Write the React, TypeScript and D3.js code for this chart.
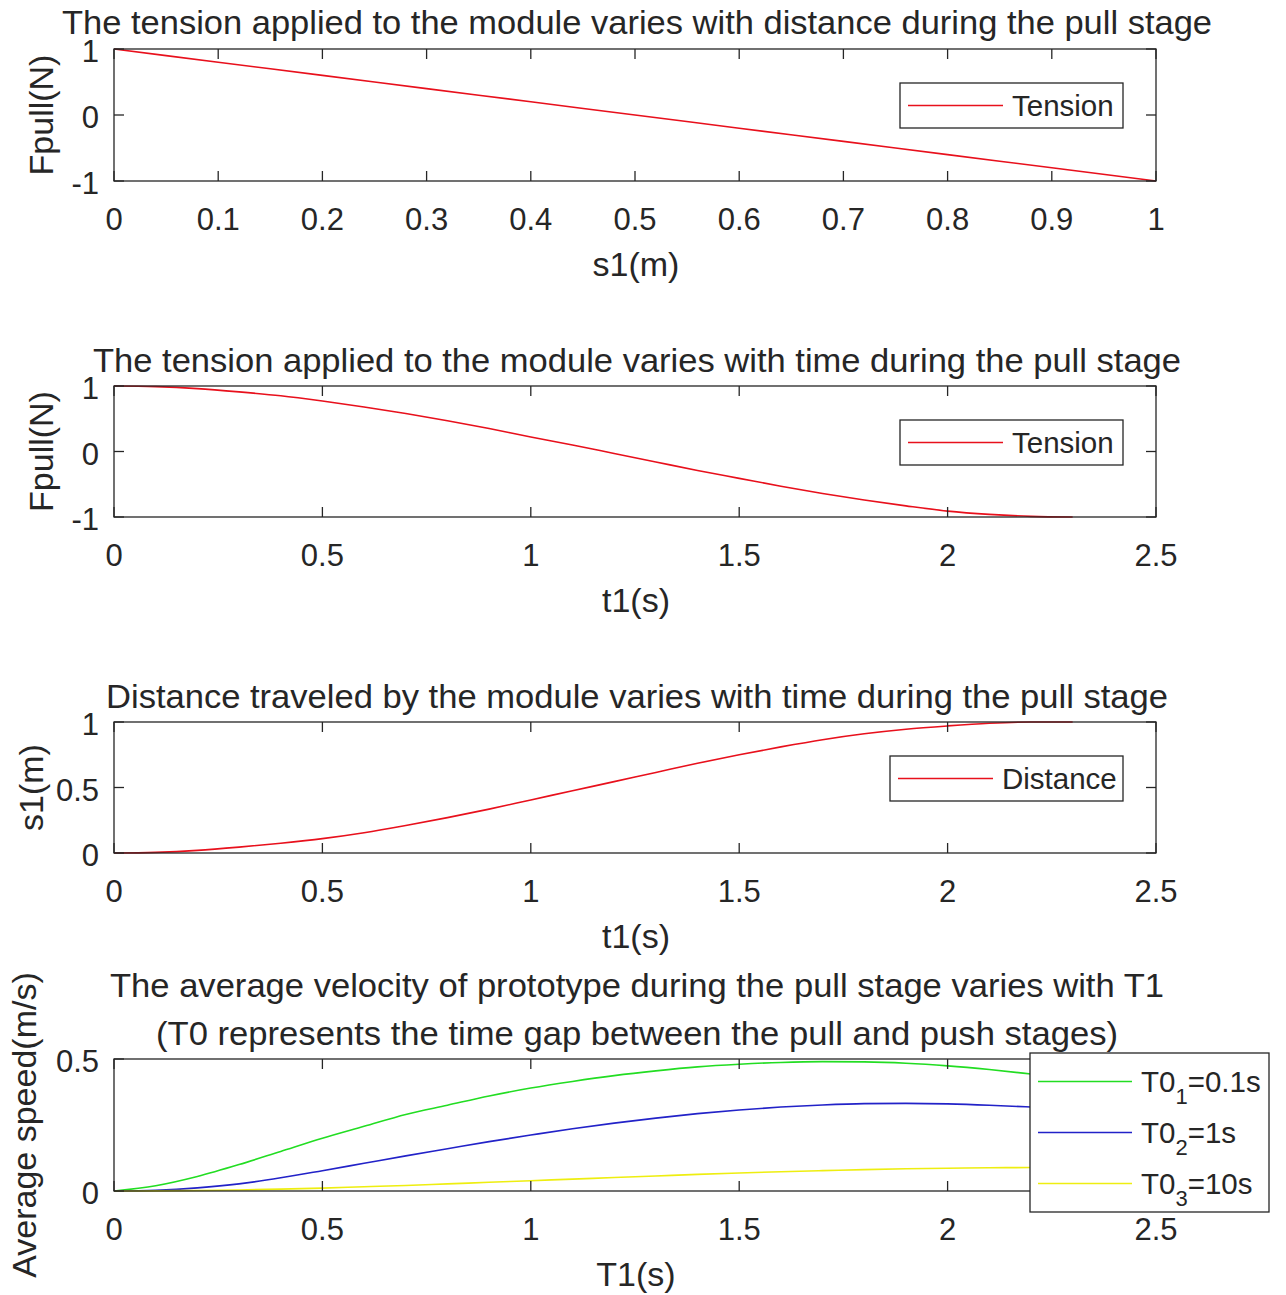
import React from 'react';
import * as d3 from 'd3';

// panel 1: tension vs distance
const s1 = [0, 0.1, 0.2, 0.3, 0.4, 0.5, 0.6, 0.7, 0.8, 0.9, 1];
const tensionByDist = [1, 0.8, 0.6, 0.4, 0.2, 0, -0.2, -0.4, -0.6, -0.8, -1];

// panels 2 & 3: vs time
const t1 = [0, 0.1, 0.2, 0.3, 0.4, 0.5, 0.6, 0.7, 0.8, 0.9, 1, 1.1, 1.2, 1.3, 1.4, 1.5, 1.6, 1.7, 1.8, 1.9, 2, 2.1, 2.2, 2.3];
const tensionByTime = [1, 0.99, 0.96, 0.91, 0.85, 0.77, 0.68, 0.58, 0.47, 0.35, 0.22, 0.1, -0.03, -0.16, -0.29, -0.41, -0.53, -0.64, -0.74, -0.83, -0.91, -0.96, -0.99, -1];
const distance = [0, 0.005, 0.02, 0.045, 0.075, 0.11, 0.155, 0.21, 0.27, 0.335, 0.405, 0.475, 0.545, 0.615, 0.685, 0.75, 0.81, 0.865, 0.91, 0.945, 0.97, 0.99, 1, 1];

// panel 4: average velocity vs T1
const T1 = [0, 0.1, 0.2, 0.3, 0.4, 0.5, 0.6, 0.7, 0.8, 0.9, 1, 1.1, 1.2, 1.3, 1.4, 1.5, 1.6, 1.7, 1.8, 1.9, 2, 2.1, 2.2, 2.3, 2.4, 2.5];
const vT0a = [0, 0.02, 0.055, 0.1, 0.15, 0.2, 0.245, 0.29, 0.325, 0.36, 0.39, 0.415, 0.437, 0.455, 0.47, 0.48, 0.487, 0.49, 0.489, 0.484, 0.474, 0.46, 0.443, 0.425, 0.405, 0.385];
const vT0b = [0, 0.003, 0.012, 0.027, 0.05, 0.077, 0.105, 0.133, 0.16, 0.187, 0.212, 0.236, 0.257, 0.276, 0.293, 0.307, 0.318, 0.326, 0.331, 0.332, 0.33, 0.325, 0.318, 0.31, 0.3, 0.29];
const vT0c = [0, 0.0005, 0.002, 0.004, 0.007, 0.011, 0.016, 0.021, 0.027, 0.033, 0.039, 0.045, 0.051, 0.057, 0.063, 0.068, 0.073, 0.077, 0.081, 0.084, 0.086, 0.088, 0.089, 0.09, 0.09, 0.09];

const sLabels = ['0', '0.1', '0.2', '0.3', '0.4', '0.5', '0.6', '0.7', '0.8', '0.9', '1'];
const tTicks = [0, 0.5, 1, 1.5, 2, 2.5];

const INK = '#262626';
const FONT = 'Arial, "Liberation Sans", Helvetica, sans-serif';
const FS_TICK = 31;
const FS_LABEL = 34;
const FS_LEGEND = 29.5;
const X0 = 114;
const X1 = 1156;

type Series = { x: number[]; y: number[]; color: string; name: string; sub?: string; rest?: string };

type PanelProps = {
  top: number;
  bottom: number;
  xDomain: [number, number];
  xTicks: number[];
  xFmt: (v: number) => string;
  yDomain: [number, number];
  yTicks: number[];
  title: string[];
  titleY: number[];
  titleW: number[];
  xlabel: string;
  ylabel: string;
  ylabelX: number;
  series: Series[];
  legend: { x: number; y: number; w: number; h: number; rowH: number; lineLen: number };
};

function Panel(p: PanelProps) {
  const x = d3.scaleLinear().domain(p.xDomain).range([X0, X1]);
  const y = d3.scaleLinear().domain(p.yDomain).range([p.bottom, p.top]);
  const line = d3.line<[number, number]>().x(d => x(d[0])).y(d => y(d[1])).curve(d3.curveMonotoneX);
  const tl = 10;
  const lg = p.legend;
  return (
    <g fontFamily={FONT} fill={INK}>
      {p.title.map((s, i) => (
        <text key={i} x={(X0 + X1) / 2 + 2} y={p.titleY[i]} textAnchor="middle" fontSize={FS_LABEL}
          textLength={p.titleW[i]} lengthAdjust="spacingAndGlyphs">{s}</text>
      ))}
      <clipPath id={`clip${p.top}`}>
        <rect x={X0} y={p.top - 2} width={X1 - X0 + 2} height={p.bottom - p.top + 4} />
      </clipPath>
      <g clipPath={`url(#clip${p.top})`}>
        {p.series.map((s, i) => (
          <path key={i} d={line(s.x.map((v, j) => [v, s.y[j]]) as [number, number][]) || ''}
            fill="none" stroke={s.color} strokeWidth={1.6} />
        ))}
      </g>
      <rect x={X0} y={p.top} width={X1 - X0} height={p.bottom - p.top} fill="none" stroke={INK} strokeWidth={1.3} />
      {p.xTicks.map((v, i) => (
        <g key={i}>
          <line x1={x(v)} x2={x(v)} y1={p.bottom} y2={p.bottom - tl} stroke={INK} strokeWidth={1.3} />
          <line x1={x(v)} x2={x(v)} y1={p.top} y2={p.top + tl} stroke={INK} strokeWidth={1.3} />
          <text x={x(v)} y={p.bottom + 49} textAnchor="middle" fontSize={FS_TICK}>{p.xFmt(v)}</text>
        </g>
      ))}
      {p.yTicks.map((v, i) => (
        <g key={i}>
          <line x1={X0} x2={X0 + tl} y1={y(v)} y2={y(v)} stroke={INK} strokeWidth={1.3} />
          <line x1={X1} x2={X1 - tl} y1={y(v)} y2={y(v)} stroke={INK} strokeWidth={1.3} />
          <text x={99} y={y(v) + 13} textAnchor="end" fontSize={FS_TICK}>{String(v)}</text>
        </g>
      ))}
      <text x={(X0 + X1) / 2 + 1} y={p.bottom + 95} textAnchor="middle" fontSize={FS_LABEL}>{p.xlabel}</text>
      <text transform={`translate(${p.ylabelX},${(p.top + p.bottom) / 2}) rotate(-90)`} textAnchor="middle" fontSize={FS_LABEL}>{p.ylabel}</text>
      <rect x={lg.x} y={lg.y} width={lg.w} height={lg.h} fill="#fff" stroke={INK} strokeWidth={1.3} />
      {p.series.map((s, i) => {
        const cy = lg.y + lg.rowH / 2 + (lg.h - lg.rowH * p.series.length) / 2 + i * lg.rowH;
        return (
          <g key={i}>
            <line x1={lg.x + 8} x2={lg.x + 8 + lg.lineLen} y1={cy} y2={cy} stroke={s.color} strokeWidth={1.6} />
            <text x={lg.x + 17 + lg.lineLen} y={cy + 10} fontSize={FS_LEGEND}>
              {s.name}
              {s.sub && <tspan dy={12} fontSize={22}>{s.sub}</tspan>}
              {s.rest && <tspan dy={-12}>{s.rest}</tspan>}
            </text>
          </g>
        );
      })}
    </g>
  );
}

export default function App() {
  const fmtT = (v: number) => String(v);
  return (
    <svg width={1286} height={1295} style={{ display: 'block', position: 'absolute', left: 0, top: 0 }}>
      <rect width={1286} height={1295} fill="#fff" />
      <Panel top={49} bottom={181} xDomain={[0, 1]} xTicks={s1} xFmt={v => sLabels[Math.round(v * 10)]}
        yDomain={[-1, 1]} yTicks={[-1, 0, 1]}
        title={['The tension applied to the module varies with distance during the pull stage']} titleY={[34]} titleW={[1150]}
        xlabel="s1(m)" ylabel="Fpull(N)" ylabelX={53}
        series={[{ x: s1, y: tensionByDist, color: '#e8101c', name: 'Tension' }]}
        legend={{ x: 900, y: 83, w: 223, h: 45, rowH: 45, lineLen: 95 }} />
      <Panel top={386} bottom={517} xDomain={[0, 2.5]} xTicks={tTicks} xFmt={fmtT}
        yDomain={[-1, 1]} yTicks={[-1, 0, 1]}
        title={['The tension applied to the module varies with time during the pull stage']} titleY={[372]} titleW={[1088]}
        xlabel="t1(s)" ylabel="Fpull(N)" ylabelX={53}
        series={[{ x: t1, y: tensionByTime, color: '#e8101c', name: 'Tension' }]}
        legend={{ x: 900, y: 420, w: 223, h: 45, rowH: 45, lineLen: 95 }} />
      <Panel top={722} bottom={853} xDomain={[0, 2.5]} xTicks={tTicks} xFmt={fmtT}
        yDomain={[0, 1]} yTicks={[0, 0.5, 1]}
        title={['Distance traveled by the module varies with time during the pull stage']} titleY={[708]} titleW={[1062]}
        xlabel="t1(s)" ylabel="s1(m)" ylabelX={43}
        series={[{ x: t1, y: distance, color: '#e8101c', name: 'Distance' }]}
        legend={{ x: 890, y: 756, w: 233, h: 45, rowH: 45, lineLen: 95 }} />
      <Panel top={1059} bottom={1191} xDomain={[0, 2.5]} xTicks={tTicks} xFmt={fmtT}
        yDomain={[0, 0.5]} yTicks={[0, 0.5]}
        title={['The average velocity of prototype during the pull stage varies with T1',
          '(T0 represents the time gap between the pull and push stages)']} titleY={[997, 1045]} titleW={[1054, 962]}
        xlabel="T1(s)" ylabel="Average speed(m/s)" ylabelX={36}
        series={[
          { x: T1, y: vT0a, color: '#22dd22', name: 'T0', sub: '1', rest: '=0.1s' },
          { x: T1, y: vT0b, color: '#2222c8', name: 'T0', sub: '2', rest: '=1s' },
          { x: T1, y: vT0c, color: '#eeee10', name: 'T0', sub: '3', rest: '=10s' },
        ]}
        legend={{ x: 1030, y: 1053, w: 239, h: 159, rowH: 51, lineLen: 94 }} />
    </svg>
  );
}
